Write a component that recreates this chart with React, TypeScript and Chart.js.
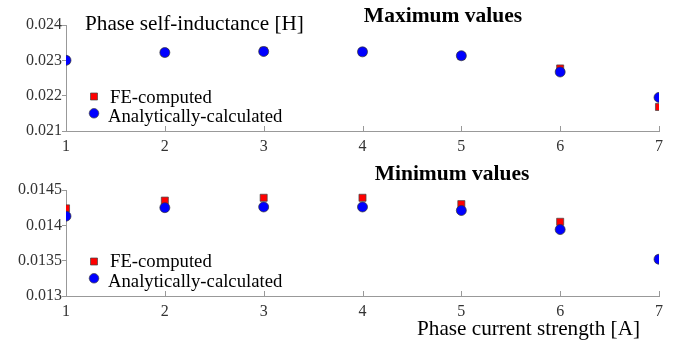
import React, { useEffect, useRef } from "react";
import { Chart, registerables } from "chart.js";

Chart.register(...registerables);

const currents = [1, 2, 3, 4, 5, 6, 7];
const maxFE = [0.02300, 0.02322, 0.02327, 0.02324, 0.02312, 0.02277, 0.02168];
const maxAnalytic = [0.02300, 0.02322, 0.02325, 0.02324, 0.02313, 0.02267, 0.02195];
const minFE = [0.01424, 0.01435, 0.01439, 0.01439, 0.01430, 0.01405, 0.01352];
const minAnalytic = [0.01413, 0.01425, 0.01426, 0.01426, 0.01421, 0.01394, 0.01352];

const topYTicks = [0.021, 0.022, 0.023, 0.024];
const bottomYTicks = [0.013, 0.0135, 0.014, 0.0145];

const SERIF = "'Liberation Serif', 'DejaVu Serif', serif";

type TextItem = { text: string; x: number; y: number; size: number; bold?: boolean; align?: CanvasTextAlign };

function makePlugin(texts: TextItem[]) {
  return {
    id: "extras",
    afterDraw(chart: any) {
      const ctx = chart.ctx as CanvasRenderingContext2D;
      const xs = chart.scales.x;
      const area = chart.chartArea;
      ctx.save();
      // x tick marks pointing up
      ctx.strokeStyle = "#999";
      ctx.lineWidth = 1;
      currents.forEach((c) => {
        const px = Math.round(xs.getPixelForValue(c)) + 0.5;
        ctx.beginPath();
        ctx.moveTo(px, area.bottom);
        ctx.lineTo(px, area.bottom - 5);
        ctx.stroke();
      });
      // texts
      ctx.fillStyle = "#000";
      ctx.textBaseline = "alphabetic";
      texts.forEach((t) => {
        ctx.font = `${t.bold ? "bold " : ""}${t.size}px ${SERIF}`;
        ctx.textAlign = t.align || "left";
        ctx.fillText(t.text, t.x, t.y);
      });
      // legend markers
      ctx.fillStyle = "#ff0000";
      ctx.strokeStyle = "#444";
      ctx.lineWidth = 0.7;
      ctx.beginPath();
      ctx.rect(90.5, 93, 7, 7);
      ctx.fill();
      ctx.stroke();
      ctx.fillStyle = "#0000ff";
      ctx.beginPath();
      ctx.arc(94, 113.3, 4.8, 0, Math.PI * 2);
      ctx.fill();
      ctx.stroke();
      ctx.restore();
    },
  };
}

function makeConfig(fe: number[], an: number[], yTicks: number[], xHeight: number) {
  return {
    type: "scatter" as const,
    data: {
      datasets: [
        {
          label: "Analytically-calculated",
          data: currents.map((c, i) => ({ x: c, y: an[i] })),
          pointStyle: "circle",
          pointRadius: 5,
          backgroundColor: "#0000ff",
          borderColor: "#333",
          borderWidth: 0.7,
          order: 0,
        },
        {
          label: "FE-computed",
          data: currents.map((c, i) => ({ x: c, y: fe[i] })),
          pointStyle: "rect",
          pointRadius: 5,
          backgroundColor: "#ff0000",
          borderColor: "#444",
          borderWidth: 0.7,
          order: 1,
        },
      ],
    },
    options: {
      animation: false,
      responsive: false,
      maintainAspectRatio: false,
      layout: { padding: { left: 0, right: 17, top: 25, bottom: 0 } },
      plugins: { legend: { display: false }, tooltip: { enabled: false } },
      scales: {
        x: {
          type: "linear",
          min: currents[0],
          max: currents[currents.length - 1],
          afterBuildTicks: (s: any) => {
            s.ticks = currents.map((v) => ({ value: v }));
          },
          ticks: {
            font: { family: SERIF, size: 16 },
            color: "#333",
            padding: -2,
            maxRotation: 0,
            callback: (v: any) => String(v),
          },
          grid: { display: false },
          border: { display: true, color: "#999", width: 1 },
          afterFit: (s: any) => {
            s.height = xHeight;
          },
        },
        y: {
          type: "linear",
          min: yTicks[0],
          max: yTicks[yTicks.length - 1],
          afterBuildTicks: (s: any) => {
            s.ticks = yTicks.map((v) => ({ value: v }));
          },
          ticks: {
            font: { family: SERIF, size: 16 },
            color: "#333",
            padding: 0,
            callback: (v: any) => String(Number(Number(v).toFixed(5))),
          },
          grid: { display: true, drawOnChartArea: false, tickLength: 4, color: "#999" },
          border: { display: true, color: "#999", width: 1 },
          afterFit: (s: any) => {
            s.width = 66;
          },
        },
      },
    },
  };
}

function Panel(props: { width: number; height: number; fe: number[]; an: number[]; yTicks: number[]; texts: TextItem[] }) {
  const ref = useRef<HTMLCanvasElement>(null);
  useEffect(() => {
    if (!ref.current) return;
    const xHeight = props.height - 131;
    const cfg: any = makeConfig(props.fe, props.an, props.yTicks, xHeight);
    cfg.plugins = [makePlugin(props.texts)];
    const chart = new Chart(ref.current, cfg);
    return () => chart.destroy();
  }, []);
  return (
    <div style={{ width: props.width, height: props.height, position: "relative" }}>
      <canvas ref={ref} width={props.width} height={props.height} style={{ display: "block", width: props.width, height: props.height }} />
    </div>
  );
}

export default function App() {
  return (
    <div style={{ position: "absolute", left: 0, top: 0, width: 676, height: 345, background: "#fff" }}>
      <Panel
        width={676}
        height={165}
        fe={maxFE}
        an={maxAnalytic}
        yTicks={topYTicks}
        texts={[
          { text: "Maximum values", x: 443, y: 22, size: 21.5, bold: true, align: "center" },
          { text: "Phase self-inductance [H]", x: 85, y: 30, size: 21.2 },
          { text: "FE-computed", x: 110, y: 103, size: 18.7 },
          { text: "Analytically-calculated", x: 108, y: 122, size: 18.7 },
        ]}
      />
      <Panel
        width={676}
        height={180}
        fe={minFE}
        an={minAnalytic}
        yTicks={bottomYTicks}
        texts={[
          { text: "Minimum values", x: 452, y: 15, size: 21.5, bold: true, align: "center" },
          { text: "FE-computed", x: 110, y: 102, size: 18.7 },
          { text: "Analytically-calculated", x: 108, y: 122, size: 18.7 },
          { text: "Phase current strength [A]", x: 417, y: 170, size: 21.2 },
        ]}
      />
    </div>
  );
}
